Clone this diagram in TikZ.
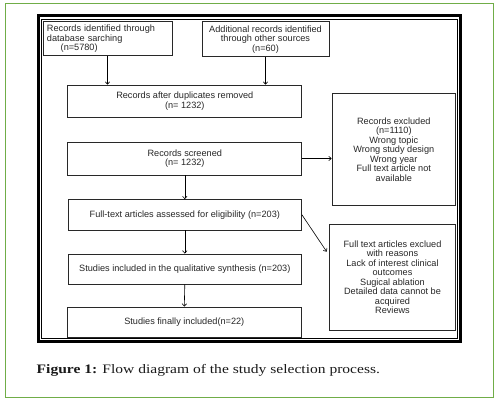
\documentclass[tikz,border=0pt]{standalone}
\usepackage{fontspec}
\setmainfont{Liberation Serif}
\newfontfamily\boxfont{Liberation Sans}
\usetikzlibrary{arrows.meta}
\definecolor{framegreen}{RGB}{112,173,71}
\definecolor{boxline}{RGB}{40,40,40}
\begin{document}
\begin{tikzpicture}[x=1bp,y=-1bp,
  box/.style={draw=boxline, line width=0.8bp, inner xsep=1bp, inner ysep=0pt, align=center,
    font=\boxfont\fontsize{9.2}{9.5}\selectfont, text=black!85},
  flow/.style={draw=black, line width=0.6bp, -{Straight Barb[length=2.5bp,width=4.5bp]}}]
\useasboundingbox (0,0) rectangle (499,404);
% outer green border
\draw[framegreen, line width=1.2bp] (5.5,3.5) rectangle (493.5,397.5);
% double black frame
\draw[black, line width=2.4bp] (38.3,15.5) rectangle (460.3,341.5);
\draw[black, line width=0.8bp] (41,19) rectangle (457,338.3);
% boxes
\node[box, minimum width=129bp, minimum height=34bp, text width=121bp, align=left, inner xsep=4bp] (A) at (107.5,38.7)
  {Records identified through\\database sarching\\\hspace*{13.7bp}(n=5780)};
\node[box, minimum width=127bp, minimum height=35bp] (B) at (265.5,39.2)
  {Additional records identified\\through other sources\\(n=60)};
\node[box, minimum width=234bp, minimum height=32bp] (C) at (184.8,101.1)
  {Records after duplicates removed\\(n= 1232)};
\node[box, minimum width=234bp, minimum height=33bp] (D) at (184.8,158.5)
  {Records screened\\(n= 1232)};
\node[box, minimum width=233.5bp, minimum height=30.5bp] (E) at (184.8,214.8)
  {Full-text articles assessed for eligibility (n=203)};
\node[box, minimum width=233.5bp, minimum height=30bp] (F) at (184.8,269)
  {Studies included in the qualitative synthesis (n=203)};
\node[box, minimum width=234.5bp, minimum height=30bp] (G) at (184.3,322)
  {Studies finally included(n=22)};
\node[box, minimum width=123.5bp, minimum height=112bp] (H) at (393.8,149.5)
  {Records excluded\\(n=1110)\\Wrong topic\\Wrong study design\\Wrong year\\Full text article not\\available};
\node[box, minimum width=126bp, minimum height=105.5bp] (I) at (392.5,277.2)
  {Full text articles exclued\\with reasons\\Lack of interest clinical\\outcomes\\Sugical ablation\\Detailed data cannot be\\acquired\\Reviews};
% connectors
\coordinate (Iin) at (326.7,251.7);
\draw[flow] (A.south) -- (A.south |- C.north);
\draw[flow] (B.south) -- (B.south |- C.north);
\draw[flow] (D.east) -- (D.east -| H.west);
\draw[flow] (E.east) -- (Iin);
\draw[flow] (D.south) -- (E.north);
\draw[flow] (E.south) -- (F.north);
\draw[flow] (F.south) -- (G.north);
% caption
\node[anchor=west, inner sep=0pt, font=\fontsize{13}{15}\selectfont, text=black!90] (cap) at (36.5,370)
  {\scalebox{1.2}[1]{\textbf{Figure 1:} Flow diagram of the study selection process.}};
\end{tikzpicture}
\end{document}
